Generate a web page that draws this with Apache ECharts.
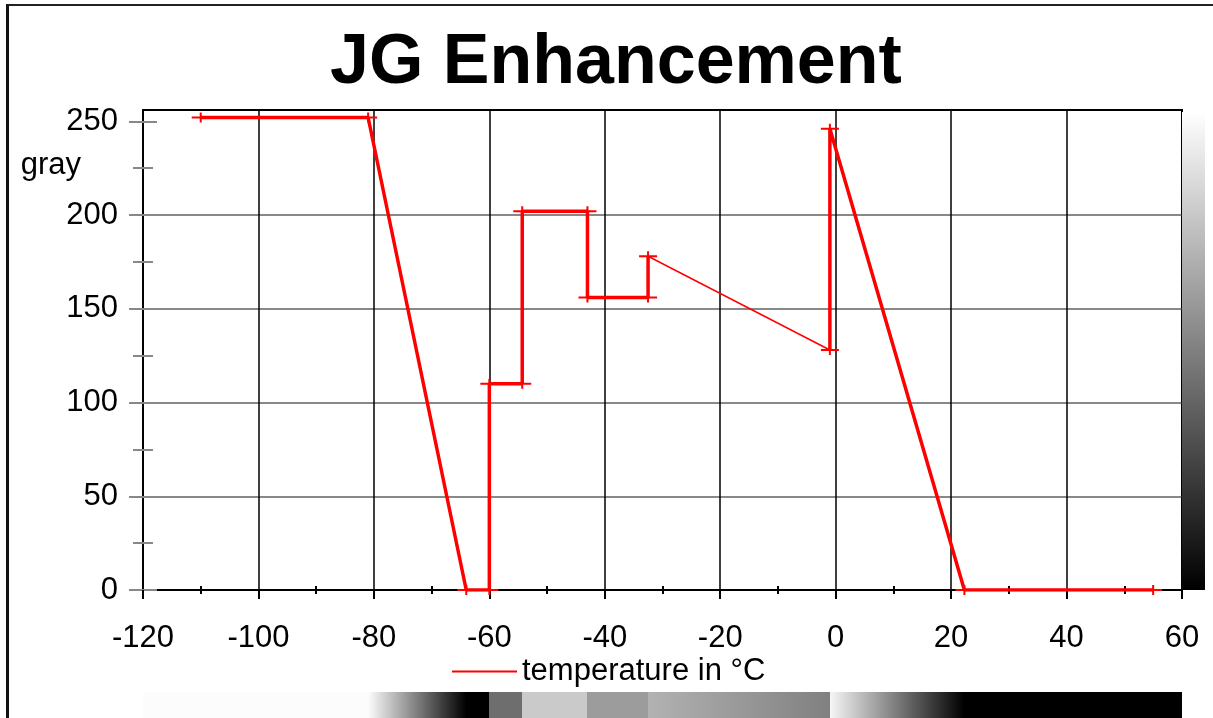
<!DOCTYPE html>
<html>
<head>
<meta charset="utf-8">
<title>JG Enhancement</title>
<script src="https://cdn.jsdelivr.net/npm/echarts@6.0.0/dist/echarts.min.js"></script>
<style>
    html,body{margin:0;padding:0;background:#fff;}
    #frame{position:absolute;left:6px;top:4px;width:1300px;height:800px;border-left:3px solid #111;border-top:2px solid #222;}
    #charts{position:absolute;left:0;top:0;width:1213px;height:718px;}
</style>
</head>
<body>
<div id="frame"></div>
<div id="charts"></div>
<script>
    // temperature axis and gray axis
    let tempRange = [-120, 60];
    let grayRange = [0, 255];
    let xTicks = [-120, -100, -80, -60, -40, -20, 0, 20, 40, 60];
    let yTicks = [0, 50, 100, 150, 200, 250];

    // curve vertices
    let temps = [-110, -81, -64, -60, -60, -54.3, -54.3, -43, -43, -32.5, -32.5, -1, -1, 22.3, 55];
    let grays = [252, 252, 0, 0, 110, 110, 202, 202, 156, 156, 178, 128, 246, 0, 0];
    // the segment drawn with a thin pen (index of its first point)
    let thinFrom = 10;

    let seriesName = 'temperature in °C';
    let fontName = 'Liberation Sans';
    let plus = 'path://M0,4L8,4L8,0L10,0L10,4L18,4L18,6L10,6L10,10L8,10L8,6L0,6Z';

    let mainData = [];
    temps.map((t, i) => {
        if (i == thinFrom + 1) {
            mainData.push([t, null]);
        }
        mainData.push([t, grays[i]]);
    });
    let thinData = [[temps[thinFrom], grays[thinFrom]], [temps[thinFrom + 1], grays[thinFrom + 1]]];

    function grayColor(g) {
        return 'rgb(' + g + ',' + g + ',' + g + ')';
    }
    // strip under the axis: gray level of the curve along temperature
    let stripStops = temps.map((t, i) => {
        return {offset: (t - tempRange[0]) / (tempRange[1] - tempRange[0]), color: grayColor(grays[i])};
    });
    let barStops = [{offset: 0, color: grayColor(grayRange[1])}, {offset: 1, color: grayColor(grayRange[0])}];

    var myChart = echarts.init(document.getElementById('charts'), null, {renderer: 'canvas'});
    let option = {
        animation: false,
        backgroundColor: 'transparent',
        title: {
            text: 'JG Enhancement',
            left: 325,
            top: 24,
            textStyle: {fontFamily: fontName, fontSize: 70, fontWeight: 'bold', color: '#000'}
        },
        legend: {
            data: [seriesName],
            left: 447,
            top: 651,
            icon: 'rect',
            itemWidth: 65,
            itemHeight: 2,
            textStyle: {fontFamily: fontName, fontSize: 31, color: '#000'}
        },
        grid: [
            {left: 143, right: 31, top: 110, bottom: 128, show: true, borderColor: '#000', borderWidth: 2, outerBoundsMode: 'none'},
            {left: 143, right: 31, top: 692, bottom: 0, outerBoundsMode: 'none'},
            {left: 1182, width: 23, top: 110, bottom: 128, outerBoundsMode: 'none'}
        ],
        xAxis: [
            {
                gridIndex: 0, type: 'value', min: tempRange[0], max: tempRange[1], interval: xTicks[1] - xTicks[0],
                axisLine: {onZero: false, lineStyle: {color: '#000', width: 2}},
                axisTick: {length: 9, lineStyle: {color: '#000', width: 2}},
                minorTick: {show: true, splitNumber: 2, length: 4, lineStyle: {color: '#000', width: 2}},
                axisLabel: {margin: 33, fontFamily: fontName, fontSize: 31, color: '#000'},
                splitLine: {show: true, lineStyle: {color: '#000', width: 1.5}}
            },
            {
                gridIndex: 0, type: 'value', position: 'bottom', min: tempRange[0], max: tempRange[1], interval: xTicks[1] - xTicks[0],
                axisLine: {show: false, onZero: false},
                axisTick: {show: false, inside: true},
                minorTick: {show: true, splitNumber: 2, length: 4, lineStyle: {color: '#000', width: 2}},
                axisLabel: {show: false},
                splitLine: {show: false}
            },
            {gridIndex: 1, type: 'value', min: tempRange[0], max: tempRange[1], show: false},
            {gridIndex: 2, type: 'value', min: 0, max: 1, show: false}
        ],
        yAxis: [
            {
                gridIndex: 0, type: 'value', min: 0, max: 256, interval: yTicks[1] - yTicks[0],
                name: 'gray',
                nameLocation: 'end',
                nameGap: -55,
                nameTextStyle: {fontFamily: fontName, fontSize: 31, color: '#000', align: 'right', verticalAlign: 'middle', padding: [0, 62, 0, 0]},
                axisLine: {onZero: false, lineStyle: {color: '#000', width: 2}},
                axisTick: {length: 14, customValues: yTicks, lineStyle: {color: '#888', width: 2}},
                minorTick: {show: true, splitNumber: 2, length: 10, lineStyle: {color: '#888', width: 2}},
                axisLabel: {margin: 25, fontFamily: fontName, fontSize: 31, color: '#000', customValues: yTicks},
                splitLine: {show: true, lineStyle: {color: ['#888', '#888', '#888', '#888', '#888', 'transparent', 'transparent'], width: 2}}
            },
            {
                gridIndex: 0, type: 'value', position: 'left', offset: 0, min: 0, max: 256, interval: yTicks[1] - yTicks[0],
                axisLine: {show: false, onZero: false},
                axisTick: {show: true, inside: true, length: 14, customValues: yTicks, lineStyle: {color: '#888', width: 2}},
                minorTick: {show: true, splitNumber: 2, length: 10, lineStyle: {color: '#888', width: 2}},
                axisLabel: {show: false},
                splitLine: {show: false}
            },
            {gridIndex: 1, type: 'value', min: 0, max: 1, show: false},
            {gridIndex: 2, type: 'value', min: 0, max: 256, show: false}
        ],
        series: [
            {
                name: seriesName,
                type: 'line',
                xAxisIndex: 0,
                yAxisIndex: 0,
                data: mainData,
                connectNulls: false,
                symbol: plus,
                symbolSize: [18, 10],
                showAllSymbol: true,
                itemStyle: {color: '#ff0000'},
                lineStyle: {color: '#ff0000', width: 3.5},
                z: 5
            },
            {
                name: seriesName,
                type: 'line',
                xAxisIndex: 0,
                yAxisIndex: 0,
                data: thinData,
                showSymbol: false,
                lineStyle: {color: '#ff0000', width: 1.5},
                z: 5
            },
            {
                type: 'custom',
                xAxisIndex: 2,
                yAxisIndex: 2,
                data: [[tempRange[0], tempRange[1]]],
                renderItem: (params, api) => {
                    let p0 = api.coord([api.value(0), 0]);
                    let p1 = api.coord([api.value(1), 1]);
                    return {
                        type: 'rect',
                        shape: {x: p0[0], y: p1[1], width: p1[0] - p0[0], height: p0[1] - p1[1]},
                        style: {fill: new echarts.graphic.LinearGradient(0, 0, 1, 0, stripStops)}
                    };
                }
            },
            {
                type: 'custom',
                xAxisIndex: 3,
                yAxisIndex: 3,
                data: [[grayRange[0], grayRange[1]]],
                renderItem: (params, api) => {
                    let p0 = api.coord([0, api.value(0)]);
                    let p1 = api.coord([1, api.value(1)]);
                    return {
                        type: 'rect',
                        shape: {x: p0[0], y: p1[1], width: p1[0] - p0[0], height: p0[1] - p1[1]},
                        style: {fill: new echarts.graphic.LinearGradient(0, 0, 0, 1, barStops)}
                    };
                }
            }
        ]
    };
    myChart.setOption(option);
</script>
</body>
</html>
